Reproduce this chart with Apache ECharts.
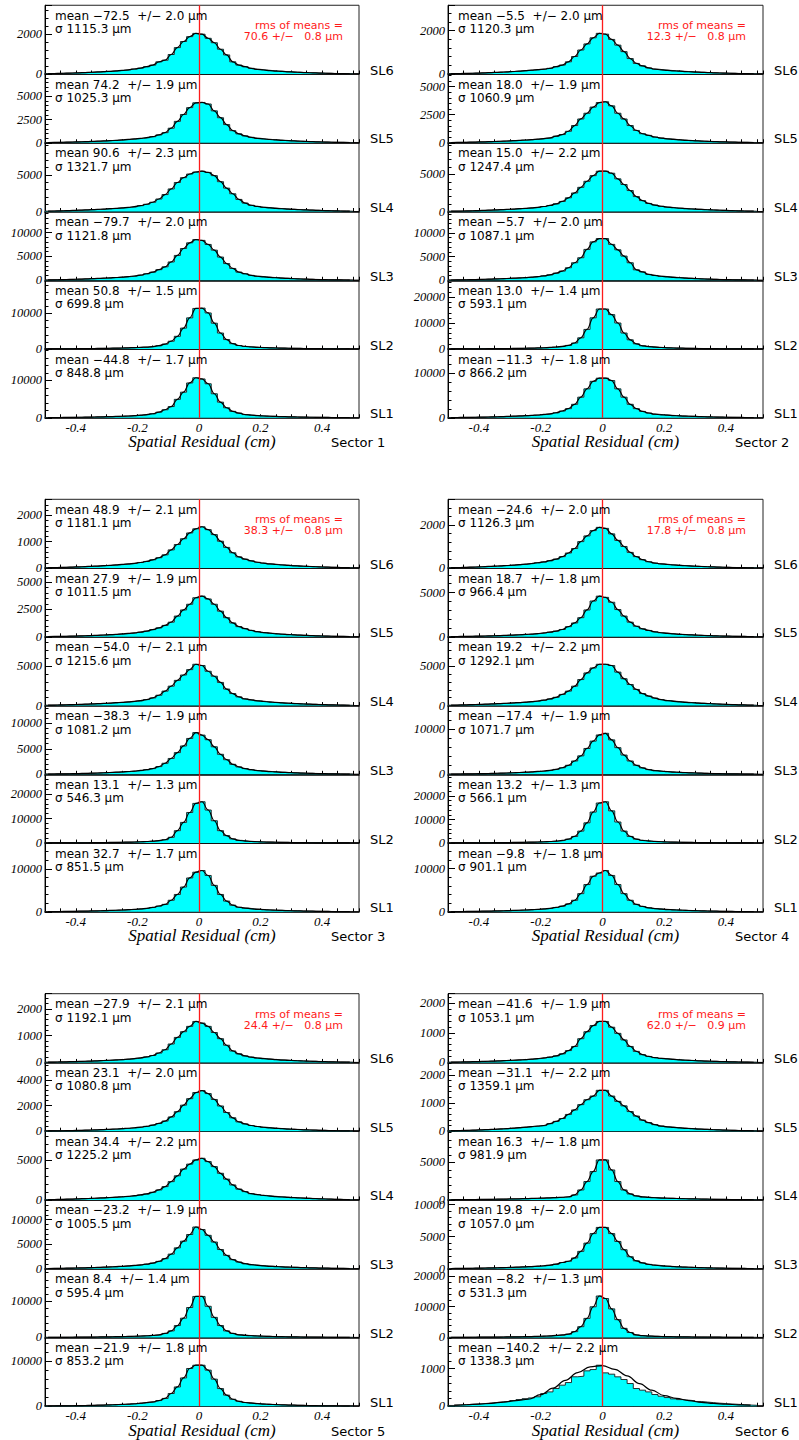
<!DOCTYPE html>
<html>
<head>
<meta charset="utf-8">
<script src="https://cdn.jsdelivr.net/npm/echarts@6/dist/echarts.min.js"></script>
<style>
  html, body { margin: 0; background: #fff; }
  #chart { width: 799px; height: 1440px; }
</style>
</head>
<body>
<div id="chart"></div>
<script>
// histogram bins: 50 bins of 0.02 cm starting at -0.5 cm
const binLow = -0.5;
const binWidth = 0.02;
const layerNames = ["SL6", "SL5", "SL4", "SL3", "SL2", "SL1"];
const sectorNames = ["Sector 1", "Sector 2", "Sector 3", "Sector 4", "Sector 5", "Sector 6"];
const rmsOfMeans = ["70.6 +/−   0.8", "12.3 +/−   0.8", "38.3 +/−   0.8", "17.8 +/−   0.8", "24.4 +/−   0.8", "62.0 +/−   0.9"];

// bin contents in % of the tallest bin, one row per superlayer (SL6 .. SL1)
const s1Shape = [
  [0.9,1.2,1.6,2.0,2.5,3.0,3.6,4.3,5.0,5.8,6.7,7.7,8.9,10.4,12.3,14.5,18,22,30,34,48,65,80,92,100, 98,88,77,61,47,30,22,18,14,11.5,9.8,8.4,7.3,6.3,5.4,4.6,3.9,3.3,2.8,2.3,1.8,1.4,1.1,0.8,0.6],
  [0.6,0.8,1.1,1.4,1.8,2.2,2.7,3.2,3.8,4.5,5.2,6.0,7.0,8.2,9.6,11,12.7,15,19.5,25,36,53,70,87,99, 100,96,79,62,45,30,22,17,13.5,11,9.3,8.0,6.9,6.0,5.2,4.4,3.7,3.1,2.6,2.1,1.7,1.3,1.0,0.8,0.6],
  [1.0,1.3,1.7,2.1,2.6,3.2,3.8,4.5,5.2,6.0,6.9,7.9,9,10.3,12,14.5,18,23,31,42,56,72,84,93,98, 100,97,89,74,58,44,30,21,15.5,12.5,10.5,9.0,7.8,6.8,5.9,5.1,4.4,3.8,3.2,2.7,2.2,1.8,1.4,1.1,0.8],
  [0.8,1.1,1.4,1.8,2.2,2.7,3.2,3.8,4.4,5.1,5.9,6.8,7.8,9,10.5,12.5,16,20,26,33,45,61,78,92,100, 98,88,74,57,41,29,20,16,12,9.8,8.3,7.1,6.1,5.2,4.4,3.7,3.1,2.6,2.1,1.7,1.4,1.1,0.8,0.6,0.5],
  [0.25,0.3,0.4,0.5,0.6,0.75,0.9,1.1,1.3,1.5,1.8,2.1,2.5,2.9,3.4,4.0,4.8,6,8,12,19,31,51,76,99, 100,88,63,39,23,13,8.5,6.2,4.9,4.0,3.4,2.9,2.5,2.1,1.8,1.5,1.3,1.1,0.9,0.75,0.6,0.5,0.4,0.3,0.25],
  [0.4,0.5,0.6,0.8,1.0,1.2,1.4,1.7,2.0,2.4,2.8,3.3,3.8,4.4,5.2,6.4,8,10,14,20,28,46,64,87,100, 97,85,60,39,25,16,11.7,8,6.3,5.2,4.4,3.7,3.2,2.8,2.4,2.0,1.7,1.4,1.2,1.0,0.8,0.6,0.5,0.4,0.3]
];
const s2Shape = [
  [0.8,1.0,1.3,1.7,2.1,2.6,3.2,3.8,4.5,5.3,6.2,7.2,8.3,9.5,10.8,12,14,18,22,30,43,59,74,89,100, 98,85,71,55,38,26,20,15,12,10.3,9.0,7.9,6.9,6.0,5.2,4.5,3.8,3.2,2.7,2.2,1.8,1.4,1.1,0.8,0.6],
  [0.6,0.8,1.0,1.3,1.7,2.1,2.6,3.1,3.7,4.3,5.0,5.8,6.7,7.7,8.9,10.3,12,16,20,28,42,58,72,87,98, 100,90,72,58,42,30,22,18,14,11.5,9.6,8.2,7.0,6.0,5.1,4.4,3.7,3.1,2.6,2.1,1.7,1.3,1.0,0.8,0.6],
  [0.8,1.0,1.3,1.7,2.1,2.6,3.2,3.8,4.5,5.2,6.0,6.9,7.9,9,10.3,12.4,15,19,25,34,46,60,75,89,100, 100,95,81,67,52,37,27,20,16,13,10.8,9.3,8.1,7.1,6.2,5.4,4.7,4.0,3.4,2.8,2.3,1.8,1.4,1.1,0.8],
  [0.6,0.8,1.0,1.3,1.7,2.1,2.6,3.1,3.6,4.2,4.9,5.6,6.5,7.5,8.8,10.5,13,17,22,30,42,54,74,92,100, 100,86,73,58,42,25,20,14,11.5,9.6,8.2,7.0,6.0,5.1,4.3,3.6,3.0,2.5,2.0,1.6,1.3,1.0,0.8,0.6,0.5],
  [0.2,0.25,0.3,0.4,0.5,0.6,0.7,0.85,1.0,1.2,1.4,1.6,1.9,2.2,2.6,3.1,3.9,5.0,6.5,9,15,28,49,78,100, 100,86,65,40,23,13,8,6,4.6,3.7,3.0,2.5,2.1,1.8,1.5,1.3,1.1,0.9,0.75,0.6,0.5,0.4,0.3,0.25,0.2],
  [0.5,0.6,0.8,1.0,1.3,1.6,1.9,2.3,2.8,3.3,3.9,4.5,5.2,6.0,7.0,8.3,10,12.6,17,23,34,52,73,92,100, 100,94,73,52,34,23,16,12,9,7.5,6.4,5.5,4.7,4.0,3.5,3.0,2.5,2.1,1.7,1.4,1.1,0.9,0.7,0.5,0.4]
];
const s3Shape = [
  [0.9,1.2,1.5,1.9,2.4,2.9,3.5,4.2,4.9,5.7,6.6,7.6,8.7,10,11.5,13.5,16,20,25,32,44,57,71,85,95, 100,93,81,65,50,37,27,21.5,17.5,14,11.8,10,8.6,7.4,6.4,5.5,4.7,4.0,3.4,2.8,2.3,1.8,1.4,1.1,0.8],
  [0.6,0.8,1.0,1.3,1.7,2.1,2.6,3.1,3.7,4.4,5.1,6.0,7.0,8.2,9.6,11.5,14,17.7,22,28,36,51,66,80,96, 100,93,80,63,47,34,25,20,15.6,12.5,10.3,8.7,7.4,6.3,5.4,4.6,3.9,3.3,2.7,2.2,1.8,1.4,1.1,0.8,0.6],
  [0.9,1.2,1.5,1.9,2.3,2.8,3.3,3.9,4.5,5.2,6.0,6.9,7.9,9,10.3,12,14.5,18.5,25,35,47,61,74,87,100, 97,83,71,56,40,29,21,16,13.7,11.5,9.8,8.5,7.4,6.4,5.6,4.8,4.1,3.5,3.0,2.5,2.0,1.6,1.3,1.0,0.7],
  [0.5,0.7,0.9,1.2,1.5,1.8,2.2,2.6,3.1,3.7,4.3,5.0,5.8,6.7,7.8,9.2,11,13.7,18.5,26.5,38,52,68,86,100, 94,83,66,48,35,24,17.7,13.7,11,9,7.6,6.5,5.6,4.8,4.1,3.5,3.0,2.5,2.1,1.7,1.4,1.1,0.8,0.6,0.5],
  [0.2,0.25,0.3,0.4,0.5,0.6,0.7,0.85,1.0,1.2,1.4,1.6,1.9,2.2,2.6,3.1,3.8,4.8,6,8,14,30,50,74,96, 100,80,54,30,18,10,6.5,4.8,3.8,3.1,2.6,2.2,1.9,1.6,1.4,1.2,1.0,0.85,0.7,0.6,0.5,0.4,0.3,0.25,0.2],
  [0.4,0.5,0.7,0.9,1.1,1.4,1.7,2.0,2.4,2.8,3.3,3.8,4.4,5.1,6.0,7.1,8.5,10.5,14,18,28,42,60,82,96, 100,88,64,42,26,16,11,9,7.3,6.1,5.2,4.4,3.8,3.3,2.8,2.4,2.0,1.7,1.4,1.1,0.9,0.7,0.5,0.4,0.3]
];
const s4Shape = [
  [0.9,1.2,1.6,2.1,2.6,3.2,3.9,4.6,5.4,6.3,7.3,8.4,9.7,11.2,13,15,18,22,28,37,48,65,79,92,100, 97.5,84,68,53,38.5,28,20.5,15.5,12.3,10.2,8.7,7.5,6.5,5.6,4.8,4.1,3.5,2.9,2.4,2.0,1.6,1.2,0.9,0.7,0.5],
  [0.5,0.7,0.9,1.2,1.5,1.8,2.2,2.6,3.1,3.7,4.3,5.0,5.8,6.8,8.0,9.5,11.5,14,18,25,34,47,66,88,100, 97,85,67,51,36,26,19.6,15.6,12.3,10,8.4,7.1,6.1,5.2,4.5,3.8,3.2,2.7,2.2,1.8,1.5,1.2,0.9,0.7,0.5],
  [0.9,1.2,1.6,2.0,2.5,3.0,3.6,4.2,4.9,5.6,6.4,7.3,8.3,9.5,11,13,16,20,27,35,47,63,79,91,100, 100,97,81,65,51,39,29,23,18,14.5,12,10.3,8.9,7.8,6.8,5.9,5.1,4.4,3.7,3.1,2.6,2.1,1.6,1.2,0.9],
  [0.5,0.6,0.8,1.0,1.3,1.6,1.9,2.3,2.7,3.2,3.8,4.4,5.1,5.9,6.9,8.1,9.7,12,16,22,32.5,45,63,81,96, 100,84,65,47,32.5,22,15.6,11.5,9,7.4,6.3,5.4,4.6,4.0,3.4,2.9,2.4,2.0,1.7,1.4,1.1,0.9,0.7,0.5,0.4],
  [0.2,0.25,0.3,0.4,0.5,0.6,0.7,0.85,1.0,1.2,1.4,1.6,1.9,2.2,2.6,3.1,3.8,4.8,6.3,9.5,16,29,49,75,97, 100,78,51,29,16,9.5,6.3,4.8,3.8,3.1,2.6,2.2,1.9,1.6,1.4,1.2,1.0,0.85,0.7,0.6,0.5,0.4,0.3,0.25,0.2],
  [0.4,0.5,0.7,0.9,1.1,1.4,1.7,2.0,2.4,2.8,3.3,3.8,4.4,5.1,6.0,7.1,8.5,10.5,13.7,19,28,44,66,86,94, 100,88,66,44,28,18,12.9,9.7,7.8,6.5,5.5,4.7,4.0,3.4,2.9,2.5,2.1,1.7,1.4,1.1,0.9,0.7,0.5,0.4,0.3]
];
const s5Shape = [
  [0.7,0.9,1.2,1.6,2.0,2.4,2.9,3.4,4.0,4.7,5.4,6.2,7.1,8.2,9.5,11.2,13.5,17,23,31,45,61,75,88,100, 96,88,73,58,42,28,21,16,13,10.8,9.2,7.9,6.8,5.9,5.1,4.4,3.8,3.2,2.7,2.2,1.8,1.4,1.1,0.8,0.6],
  [0.6,0.8,1.0,1.3,1.6,2.0,2.4,2.9,3.4,4.0,4.7,5.4,6.3,7.3,8.5,10,12,15,19,25,35,48,64,80,95, 100,92.5,78,62,46,33,23,18,14,11.5,9.7,8.3,7.1,6.1,5.2,4.5,3.8,3.2,2.7,2.2,1.8,1.4,1.1,0.8,0.6],
  [0.8,1.1,1.4,1.8,2.2,2.7,3.2,3.8,4.4,5.1,5.9,6.7,7.7,8.8,10.2,12,14.4,18.4,24,32,44,58,74,86,96, 100,92,80,64,50,36,26,20,15,12.8,10.8,9.3,8.1,7.1,6.2,5.4,4.7,4.0,3.4,2.8,2.3,1.8,1.4,1.1,0.8],
  [0.5,0.7,0.9,1.2,1.5,1.8,2.2,2.6,3.1,3.7,4.3,5.0,5.8,6.7,7.8,9.2,11,13.6,17.6,24,35,50,66,82,100, 94,80,64,46,32,21.6,16,12,9.6,8,6.8,5.8,5.0,4.3,3.7,3.2,2.7,2.3,1.9,1.6,1.3,1.0,0.8,0.6,0.4],
  [0.2,0.25,0.3,0.4,0.5,0.6,0.75,0.9,1.1,1.3,1.5,1.8,2.1,2.5,2.9,3.5,4.2,5.1,6.5,9.8,16,29,47,73,100, 100,76,49,29,16,9.8,6.5,5.1,4.2,3.5,2.9,2.5,2.1,1.8,1.5,1.3,1.1,0.9,0.75,0.6,0.5,0.4,0.3,0.25,0.2],
  [0.4,0.5,0.7,0.9,1.1,1.4,1.7,2.0,2.4,2.8,3.3,3.8,4.4,5.1,6.0,7.3,9,10.6,13.8,19,31,47,69,92,100, 100,88,66,43,27,17,12,9,7.3,6.1,5.2,4.4,3.8,3.2,2.8,2.4,2.0,1.7,1.4,1.1,0.9,0.7,0.5,0.4,0.3]
];
const s6Shape = [
  [0.7,0.9,1.2,1.6,2.0,2.4,2.9,3.4,4.0,4.7,5.4,6.2,7.1,8.2,9.5,11,13,16,21,29,39,58,75,90,100, 100,86,71,55,39,27,19,14.6,11.8,9.9,8.5,7.3,6.3,5.4,4.7,4.0,3.4,2.9,2.4,2.0,1.6,1.2,0.9,0.7,0.5],
  [1.2,1.5,1.9,2.3,2.8,3.4,4.0,4.7,5.5,6.4,7.4,8.6,10,11.4,12.7,14,18.5,24,31,41,52,65,77,86,100, 100,86,73,62,48,37,27,21,16,12.6,10.6,9.2,8.0,7.0,6.1,5.3,4.6,3.9,3.3,2.8,2.3,1.9,1.5,1.2,0.9],
  [0.5,0.6,0.7,0.9,1.1,1.3,1.5,1.7,2.0,2.3,2.6,2.9,3.3,3.7,4.2,4.7,5.3,6.0,6.8,8,12.5,25,46,71,100, 100,75,46,25,15,10,7.5,6.3,5.5,4.8,4.3,3.8,3.4,3.0,2.7,2.4,2.1,1.8,1.5,1.3,1.1,0.9,0.7,0.6,0.5],
  [0.5,0.6,0.8,1.0,1.2,1.5,1.8,2.1,2.5,2.9,3.4,3.9,4.5,5.2,6.0,7.2,8.8,11,15,18,26,42,62,85,100, 100,85,66,46,29,19,14,10.5,8.5,7.0,5.9,5.0,4.3,3.7,3.2,2.7,2.3,1.9,1.6,1.3,1.0,0.8,0.6,0.5,0.4],
  [0.2,0.25,0.3,0.4,0.5,0.6,0.7,0.85,1.0,1.2,1.4,1.6,1.9,2.2,2.6,3.1,3.8,4.8,6,8,14,26,46,74,100, 94,69,43,22,12,6,4.2,3.3,2.7,2.3,2.0,1.7,1.5,1.3,1.1,0.95,0.8,0.7,0.6,0.5,0.4,0.3,0.25,0.2,0.15],
  [1.8,2.8,3.7,4.6,5.5,6.4,7.8,9.2,10.6,11.9,13.8,16.1,18.4,20.2,23,30.9,34.9,43.1,51.3,57.7,71.7,73.2,86.2,89.4,100, 81.3,78.1,71.6,65.1,55.3,43.1,39.1,34.9,28.5,24.4,21.1,17.9,16.1,14.7,13.3,11.5,10.1,8.7,7.4,6.4,5.5,4.6,3.7,2.8,2.3]
];
// Sector 6 SL1: the fit curve departs from the histogram, read every 0.04 cm from -0.48
const s6Sl1FitStart = -0.48;
const s6Sl1FitStep = 0.04;
const s6Sl1Fit = [2.5,3.5,5,7,10,13.5,17,28,44,63,82,96,99,90,74,55,39,26,19,13.5,9.5,6.8,4.8,3.4,2.4];

// entries in the tallest bin
const s1Peak = [2030, 4350, 5490, 8530, 11500, 10720];
const s2Peak = [1878, 3660, 5446, 8816, 15500, 8800];
const s3Peak = [1570, 3720, 5254, 8176, 16860, 9600];
const s4Peak = [1893, 4590, 5254, 9111, 17570, 9540];
const s5Peak = [1530, 3190, 5210, 8510, 11390, 9110];
const s6Peak = [1380, 1450, 5320, 6450, 13440, 1088];

// y axis top and label step of each pad
const s1YMax = [3437, 7408, 9366, 14413, 19300, 18430];
const s2YMax = [3175, 6138, 9290, 14535, 26650, 15280];
const s3YMax = [2614, 6285, 8747, 13480, 28060, 15990];
const s4YMax = [3198, 7760, 8747, 15280, 29250, 15880];
const s5YMax = [2565, 5392, 8594, 14030, 19100, 15280];
const s6YMax = [2315, 2438, 9142, 10740, 22300, 1824];
const s1YStep = [2000, 2500, 5000, 5000, 10000, 10000];
const s2YStep = [2000, 2500, 5000, 5000, 10000, 10000];
const s3YStep = [1000, 2500, 5000, 5000, 10000, 10000];
const s4YStep = [2000, 5000, 5000, 10000, 10000, 10000];
const s5YStep = [1000, 2000, 5000, 5000, 10000, 10000];
const s6YStep = [1000, 1000, 5000, 5000, 10000, 1000];

// fit results printed in each pad
const s1Mean = ["−72.5  +/− 2.0", "74.2  +/− 1.9", "90.6  +/− 2.3", "−79.7  +/− 2.0", "50.8  +/− 1.5", "−44.8  +/− 1.7"];
const s1Sigma = ["1115.3", "1025.3", "1321.7", "1121.8", "699.8", "848.8"];
const s2Mean = ["−5.5  +/− 2.0", "18.0  +/− 1.9", "15.0  +/− 2.2", "−5.7  +/− 2.0", "13.0  +/− 1.4", "−11.3  +/− 1.8"];
const s2Sigma = ["1120.3", "1060.9", "1247.4", "1087.1", "593.1", "866.2"];
const s3Mean = ["48.9  +/− 2.1", "27.9  +/− 1.9", "−54.0  +/− 2.1", "−38.3  +/− 1.9", "13.1  +/− 1.3", "32.7  +/− 1.7"];
const s3Sigma = ["1181.1", "1011.5", "1215.6", "1081.2", "546.3", "851.5"];
const s4Mean = ["−24.6  +/− 2.0", "18.7  +/− 1.8", "19.2  +/− 2.2", "−17.4  +/− 1.9", "13.2  +/− 1.3", "−9.8  +/− 1.8"];
const s4Sigma = ["1126.3", "966.4", "1292.1", "1071.7", "566.1", "901.1"];
const s5Mean = ["−27.9  +/− 2.1", "23.1  +/− 2.0", "34.4  +/− 2.2", "−23.2  +/− 1.9", "8.4  +/− 1.4", "−21.9  +/− 1.8"];
const s5Sigma = ["1192.1", "1080.8", "1225.2", "1005.5", "595.4", "853.2"];
const s6Mean = ["−41.6  +/− 1.9", "−31.1  +/− 2.2", "16.3  +/− 1.8", "19.8  +/− 2.0", "−8.2  +/− 1.3", "−140.2  +/− 2.2"];
const s6Sigma = ["1053.1", "1359.1", "981.9", "1057.0", "531.3", "1338.3"];

const sectors = [
  { shape: s1Shape, peak: s1Peak, yMax: s1YMax, yStep: s1YStep, mean: s1Mean, sigma: s1Sigma },
  { shape: s2Shape, peak: s2Peak, yMax: s2YMax, yStep: s2YStep, mean: s2Mean, sigma: s2Sigma },
  { shape: s3Shape, peak: s3Peak, yMax: s3YMax, yStep: s3YStep, mean: s3Mean, sigma: s3Sigma },
  { shape: s4Shape, peak: s4Peak, yMax: s4YMax, yStep: s4YStep, mean: s4Mean, sigma: s4Sigma },
  { shape: s5Shape, peak: s5Peak, yMax: s5YMax, yStep: s5YStep, mean: s5Mean, sigma: s5Sigma },
  { shape: s6Shape, peak: s6Peak, yMax: s6YMax, yStep: s6YStep, mean: s6Mean, sigma: s6Sigma }
];

// page layout (px)
const colLeft = [45, 448];
const colWidth = [314, 315];
const rowTop = [5.25, 499.3, 993.7];
const padH = 68.75;

const sans = '"DejaVu Sans", sans-serif';
const serif = '"Liberation Serif", "Times New Roman", serif';
const keepSpaces = (s) => s.replace(/ {2}/g, "\u00a0 ").replace(/\u00a0 {2}/g, "\u00a0\u00a0 ");

function label(x, y, text, font, fill, align) {
  return {
    type: "text", x: x, y: y, silent: true, z: 100,
    style: { text: keepSpaces(text), font: font, fill: fill || "#000", textAlign: align || "left", textVerticalAlign: "middle" }
  };
}

const grid = [], xAxis = [], yAxis = [], series = [], graphic = [];

sectors.forEach((sec, s) => {
  const col = s % 2;
  const left = colLeft[col], width = colWidth[col], top0 = rowTop[Math.floor(s / 2)];
  const bottom = top0 + 6 * padH;

  for (let k = 0; k < 6; k++) {
    const g = grid.length;
    const top = top0 + k * padH;
    const step = sec.yStep[k];
    grid.push({ left: left, top: top, width: width, height: padH, show: true, borderColor: "#222", borderWidth: 1 });

    xAxis.push({
      gridIndex: g, type: "value", min: -0.5, max: 0.52, interval: 0.05, position: "bottom",
      axisLine: { onZero: false, lineStyle: { color: "#000", width: 1.6 } },
      axisTick: { inside: true, length: 3.5, lineStyle: { color: "#000", width: 1 } },
      axisLabel: {
        show: k === 5, margin: 3, color: "#000", fontFamily: serif, fontStyle: "italic", fontSize: 13,
        formatter: (v) => {
          if (Math.abs(v * 5 - Math.round(v * 5)) > 1e-6 || Math.abs(v) > 0.45) return "";
          return Math.abs(v) < 1e-9 ? "0" : v.toFixed(1);
        }
      },
      splitLine: { show: false }
    });

    // labelled ticks and the finer ticks in between, both kept on the left edge
    yAxis.push({
      gridIndex: g, type: "value", position: "left", min: 0, max: sec.yMax[k], interval: step,
      axisLine: { show: true, onZero: false, lineStyle: { color: "#000", width: 1 } },
      axisTick: { inside: true, length: 7, lineStyle: { color: "#000" } },
      axisLabel: {
        margin: 3, color: "#000", fontFamily: serif, fontStyle: "italic", fontSize: 12.5,
        formatter: (v) => (Math.abs(v / step - Math.round(v / step)) < 1e-6 ? String(Math.round(v)) : "")
      },
      splitLine: { show: false }
    });
    yAxis.push({
      gridIndex: g, type: "value", position: "left", offset: 0, min: 0, max: sec.yMax[k], interval: step / 5,
      axisLine: { show: false, onZero: false },
      axisTick: { inside: true, length: 3.5, lineStyle: { color: "#000" } },
      axisLabel: { show: false },
      splitLine: { show: false }
    });

    const counts = sec.shape[k].map((p) => (sec.peak[k] * p) / 100);
    const histData = counts.map((c, j) => [binLow + j * binWidth, c]);
    histData.push([binLow + counts.length * binWidth, counts[counts.length - 1]]);

    let fitData = counts.map((c, j) => [binLow + (j + 0.5) * binWidth, c]);
    if (s === 5 && k === 5) {
      fitData = s6Sl1Fit.map((p, j) => [s6Sl1FitStart + j * s6Sl1FitStep, (sec.peak[k] * p) / 100]);
    }

    series.push({
      type: "line", xAxisIndex: g, yAxisIndex: 2 * g, data: histData, step: "end",
      symbol: "none", silent: true, z: 2,
      lineStyle: { color: "#1a1a1a", width: 0.9 },
      areaStyle: { color: "#00ffff", opacity: 1 }
    });
    series.push({
      type: "line", xAxisIndex: g, yAxisIndex: 2 * g, data: fitData, smooth: 0.4, smoothMonotone: "x",
      symbol: "none", silent: true, z: 4,
      lineStyle: { color: "#000", width: 1.2 },
      markLine: {
        silent: true, symbol: ["none", "none"], label: { show: false },
        lineStyle: { color: "#ff1a1a", width: 1.3, type: "solid" },
        data: [{ xAxis: 0 }]
      }
    });

    graphic.push(label(left + 10, top + 10.5, "mean " + sec.mean[k] + " μm", "12px " + sans));
    graphic.push(label(left + 10, top + 24, "σ " + sec.sigma[k] + " μm", "12px " + sans));
    graphic.push(label(left + width + 11, top + padH - 4, layerNames[k], "13px " + sans));
    if (k === 0) {
      graphic.push(label(left + 298, top + 20.5, "rms of means =", "11px " + sans, "#ff1a1a", "right"));
      graphic.push(label(left + 298, top + 31.5, rmsOfMeans[s] + " μm", "11px " + sans, "#ff1a1a", "right"));
    }
  }

  graphic.push(label(left + width / 2, bottom + 24, "Spatial Residual (cm)", "italic 17px " + serif, "#000", "center"));
  graphic.push(label(left + width - 28, bottom + 25, sectorNames[s], "13px " + sans));
});

const chart = echarts.init(document.getElementById("chart"), null, { renderer: "svg", width: 799, height: 1440 });
chart.setOption({
  animation: false,
  backgroundColor: "#fff",
  grid: grid,
  xAxis: xAxis,
  yAxis: yAxis,
  series: series,
  graphic: graphic
});
</script>
</body>
</html>
